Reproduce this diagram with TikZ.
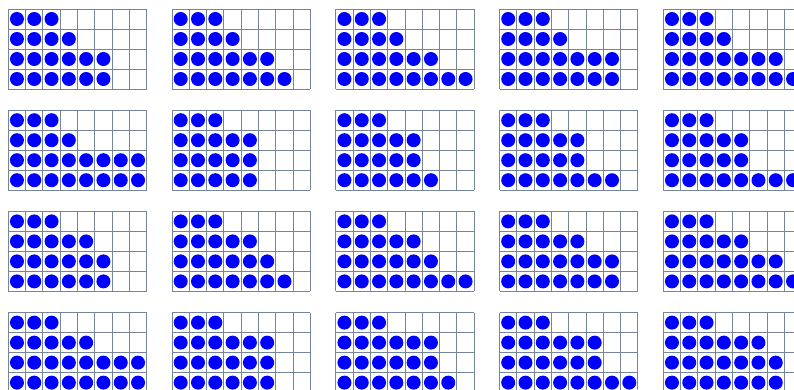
\documentclass[tikz,border=0pt]{standalone}
\begin{document}
\definecolor{gridc}{HTML}{75869A}
\definecolor{dotc}{RGB}{0,0,255}
\begin{tikzpicture}[x=1pt,y=-1pt,
  gridline/.style={draw=gridc,line width=1pt},
  dot/.style={fill=dotc}]
\fill[white] (0,0) rectangle (794,389);
\useasboundingbox (0,0) rectangle (794,389);
\clip (0,0) rectangle (794,389);
\foreach \gi/\gj/\a/\b/\c/\d in {
  0/0/3/4/6/6, 1/0/3/4/6/7, 2/0/3/4/6/8, 3/0/3/4/7/7, 4/0/3/4/7/8,
  0/1/3/4/8/8, 1/1/3/5/5/5, 2/1/3/5/5/6, 3/1/3/5/5/7, 4/1/3/5/5/8,
  0/2/3/5/6/6, 1/2/3/5/6/7, 2/2/3/5/6/8, 3/2/3/5/7/7, 4/2/3/5/7/8,
  0/3/3/5/8/8, 1/3/3/6/6/6, 2/3/3/6/6/7, 3/3/3/6/6/8, 4/3/3/6/7/7} {
  \begin{scope}[shift={({8.3+163.75*\gi},{9+101.2*\gj})}]
    \foreach \k in {0,...,8} \draw[gridline] ({17.3*\k},0) -- ({17.3*\k},80);
    \foreach \k in {0,...,4} \draw[gridline] (0,{20*\k}) -- (138.4,{20*\k});
    \foreach \r/\n in {0/\a,1/\b,2/\c,3/\d}
      \foreach \k in {1,...,\n}
        \fill[dot] ({17.3*\k-8.65},{20*\r+10}) circle[radius=7pt];
  \end{scope}
}
\end{tikzpicture}
\end{document}
